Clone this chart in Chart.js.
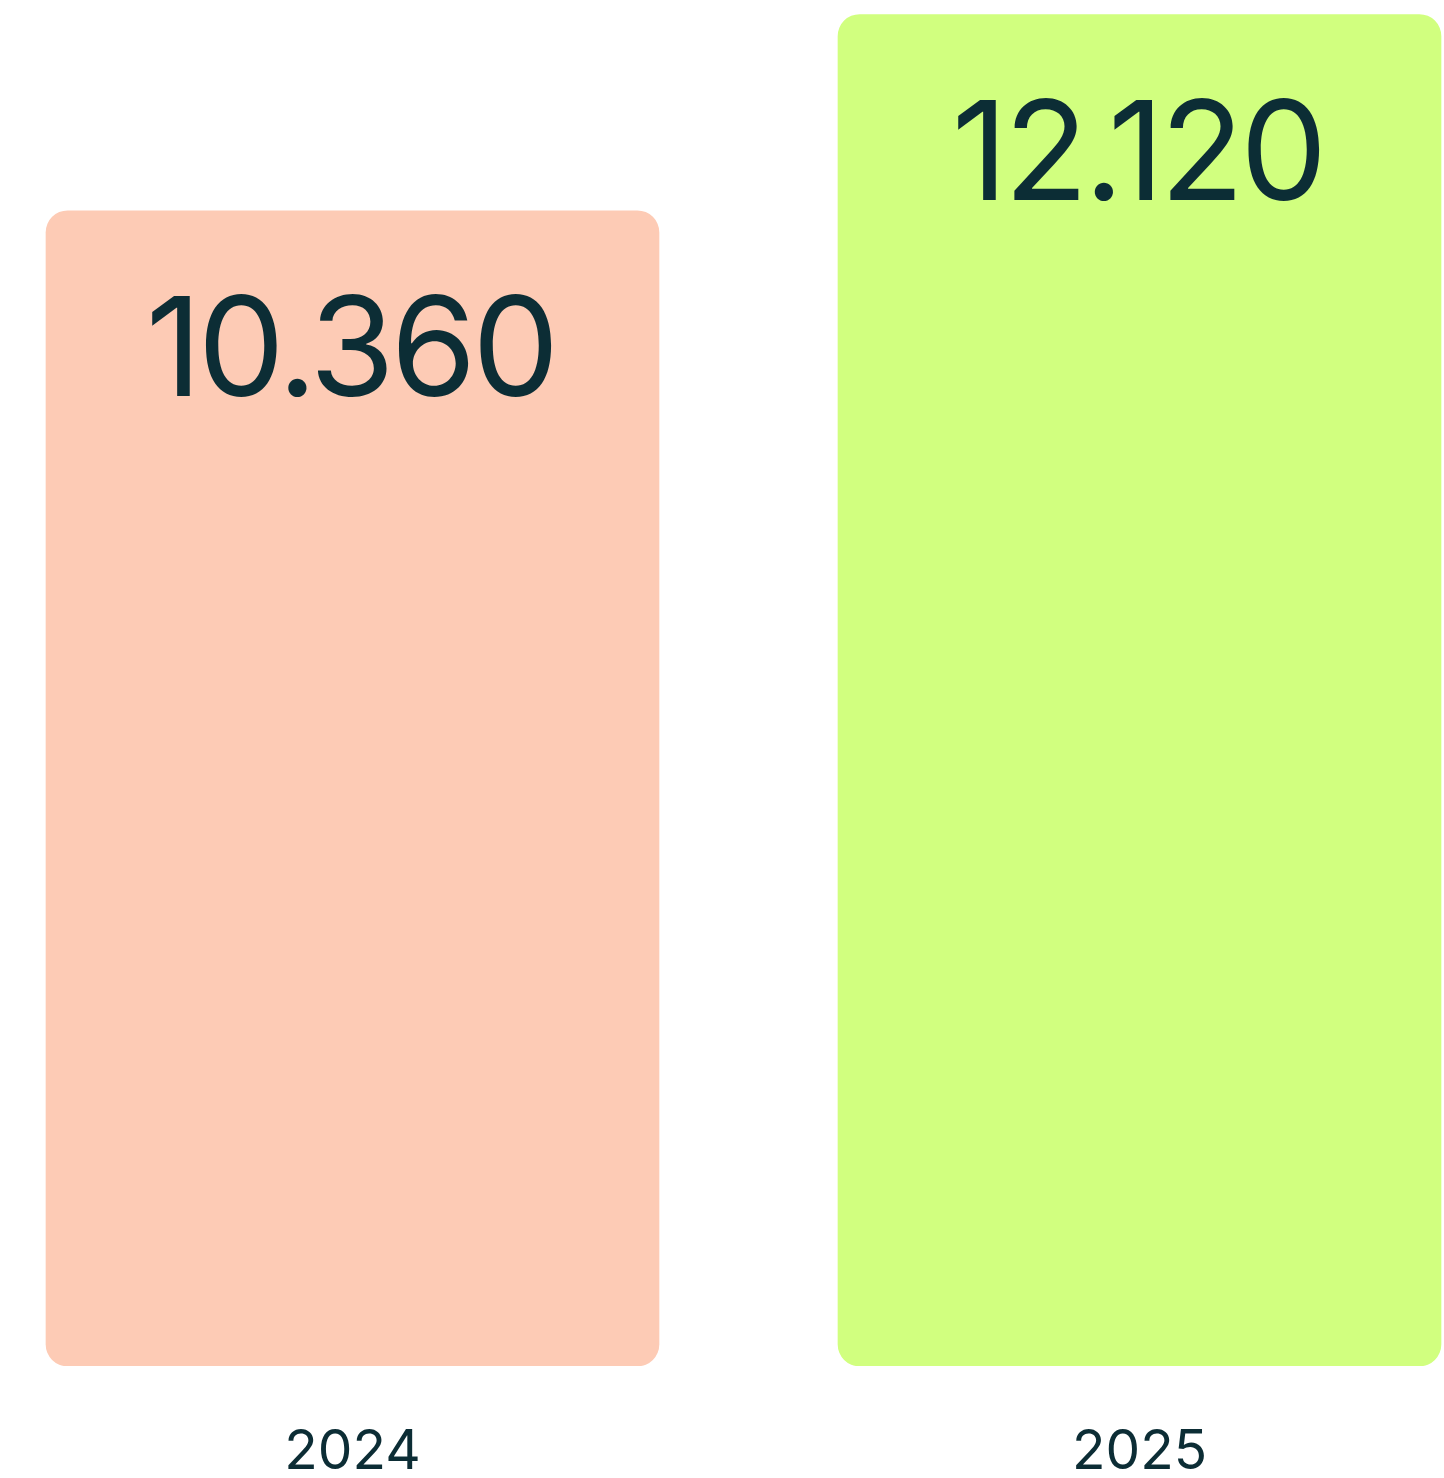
<!DOCTYPE html>
<html>
<head>
<meta charset="utf-8">
<script src="https://cdn.jsdelivr.net/npm/chart.js@4.4.1/dist/chart.umd.min.js"></script>
<style>
  html, body { margin: 0; padding: 0; background: #fff; overflow: hidden; }
  #wrap { position: absolute; left: -41px; top: 0; width: 1574px; height: 1478px; }
</style>
</head>
<body>
<div id="wrap"><canvas id="chart"></canvas></div>
<script>
  const years = ['2024', '2025'];
  const visitors = [10360, 12120];
  const barColors = ['#fdcbb5', '#d1ff7f'];
  const barWidths = [613, 603];

  const TEXT_COLOR = '#0c2d35';
  const FONT = 'Inter, "Noto Sans", sans-serif';

  const formatNumber = (n) => String(n).replace(/\B(?=(\d{3})+(?!\d))/g, '.');

  // one dataset per bar so each one keeps its own width and colour
  const datasets = visitors.map((val, i) => ({
    data: visitors.map((v, j) => (j === i ? v : null)),
    backgroundColor: barColors[i],
    barThickness: barWidths[i],
    borderRadius: 22,
    borderSkipped: false,
    grouped: false,
  }));

  const valueLabels = {
    id: 'valueLabels',
    afterDatasetsDraw(chart) {
      const ctx = chart.ctx;
      ctx.save();
      ctx.fillStyle = TEXT_COLOR;
      ctx.font = `400 138px ${FONT}`;
      ctx.letterSpacing = '-4px';
      ctx.textAlign = 'center';
      ctx.textBaseline = 'middle';
      chart.data.datasets.forEach((ds, i) => {
        const bar = chart.getDatasetMeta(i).data[i];
        ctx.fillText(formatNumber(visitors[i]), bar.x - 2, bar.y + 144);
      });
      ctx.restore();
    }
  };

  new Chart(document.getElementById('chart').getContext('2d'), {
    type: 'bar',
    data: { labels: years, datasets: datasets },
    plugins: [valueLabels],
    options: {
      responsive: true,
      maintainAspectRatio: false,
      animation: false,
      layout: { padding: 0 },
      scales: {
        x: {
          grid: { display: false },
          border: { display: false },
          ticks: {
            color: TEXT_COLOR,
            padding: 45,
            font: { family: FONT, size: 55, weight: '400' },
          },
          afterFit(scale) { scale.height = 112; },
        },
        y: {
          display: false,
          min: 0,
          max: 12250,
        }
      },
      plugins: {
        legend: { display: false },
        tooltip: { enabled: false },
      }
    }
  });
</script>
</body>
</html>
